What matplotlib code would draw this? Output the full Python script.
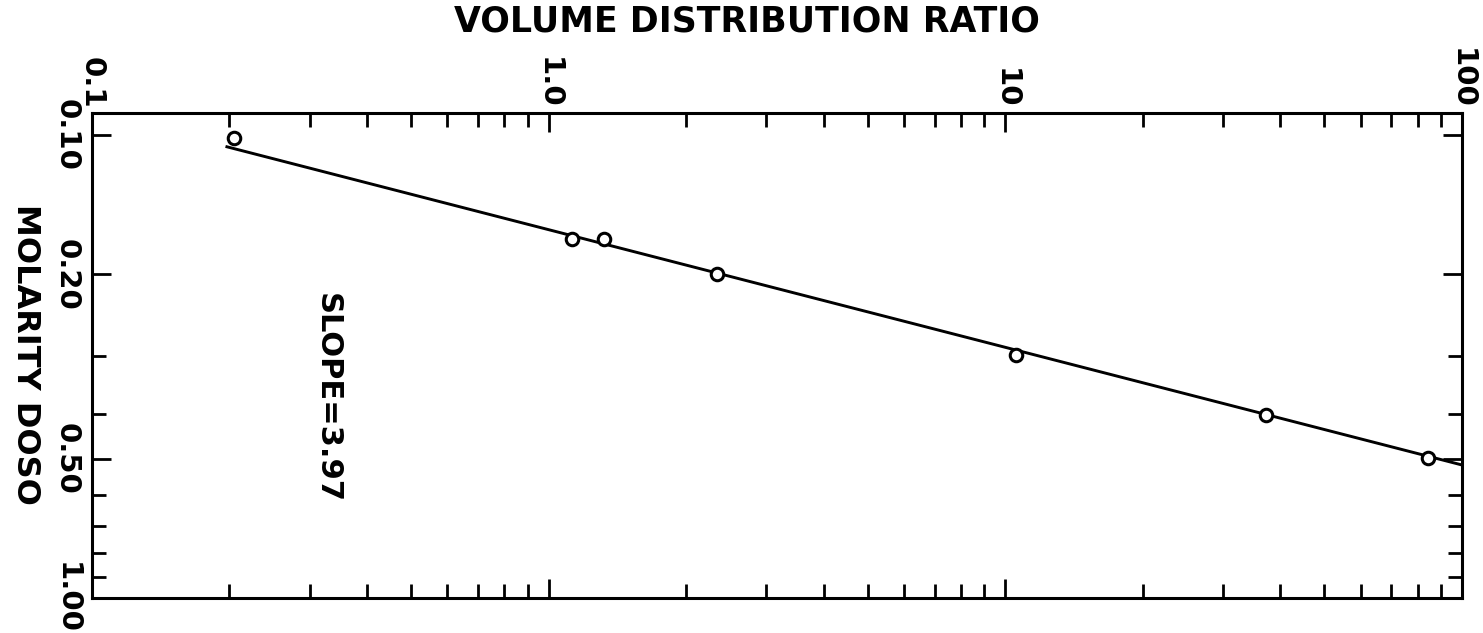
import matplotlib
matplotlib.use("Agg")
import matplotlib.pyplot as plt
from matplotlib.ticker import FixedLocator, FixedFormatter, NullFormatter

# measured extraction data
ratio = [0.205, 1.125, 1.32, 2.34, 10.55, 37.2, 84.2]
molarity = [0.1015, 0.168, 0.168, 0.20, 0.299, 0.4025, 0.4985]

# drawn least squares line (slope 3.97 on log-log)
fit_ratio = [0.1975, 100.0]
fit_molarity = [0.106, 0.516]

x_major = [0.1, 1.0, 10.0, 100.0]
x_major_labels = ["0.1", "1.0", "10", "100"]
x_minor = [m * d for d in (0.1, 1.0, 10.0) for m in range(2, 10)]

y_major = [0.1, 0.2, 0.5, 1.0]
y_major_labels = ["0.10", "0.20", "0.50", "1.00"]
y_minor = [0.3, 0.4, 0.6, 0.7, 0.8, 0.9]

plt.rcParams["font.family"] = ["DejaVu Sans"]
plt.rcParams["font.weight"] = "bold"

fig = plt.figure(figsize=(14.83, 6.33), dpi=100)
ax = fig.add_axes([0.0620, 0.0553, 0.9238, 0.7662])

ax.plot(fit_ratio, fit_molarity, color="black", linewidth=2.1, zorder=2)
ax.plot(ratio, molarity, linestyle="none", marker="o", markersize=9,
        markerfacecolor="white", markeredgecolor="black", markeredgewidth=2.2,
        zorder=3)

ax.set_xscale("log")
ax.set_yscale("log")
ax.set_xlim(0.1, 100)
ax.set_ylim(1.0, 0.0896)

ax.xaxis.set_major_locator(FixedLocator(x_major))
ax.xaxis.set_major_formatter(FixedFormatter(x_major_labels))
ax.xaxis.set_minor_locator(FixedLocator(x_minor))
ax.xaxis.set_minor_formatter(NullFormatter())
ax.yaxis.set_major_locator(FixedLocator(y_major))
ax.yaxis.set_major_formatter(FixedFormatter(y_major_labels))
ax.yaxis.set_minor_locator(FixedLocator(y_minor))
ax.yaxis.set_minor_formatter(NullFormatter())

ax.tick_params(which="both", direction="in", top=True, bottom=True,
               left=True, right=True, labeltop=True, labelbottom=False,
               labelleft=True, labelright=False, width=2.0)
ax.tick_params(which="major", length=14)
ax.tick_params(which="minor", length=10)
ax.tick_params(axis="x", which="major", labelsize=21, pad=3, labelrotation=-90)
ax.tick_params(axis="y", which="major", labelsize=21, pad=8, labelrotation=-90)
for lab in ax.get_yticklabels():
    lab.set_verticalalignment("center")

for side in ax.spines.values():
    side.set_linewidth(2.2)

fig.text(0.504, 0.966, "VOLUME DISTRIBUTION RATIO", ha="center", va="center",
         fontsize=25)
fig.text(0.017, 0.44, "MOLARITY DOSO", ha="center", va="center",
         rotation=-90, fontsize=23)
ax.text(0.327, 0.37, "SLOPE=3.97", ha="center", va="center", rotation=-90,
        fontsize=22)

fig.savefig("out.png", dpi=100, facecolor="white")
